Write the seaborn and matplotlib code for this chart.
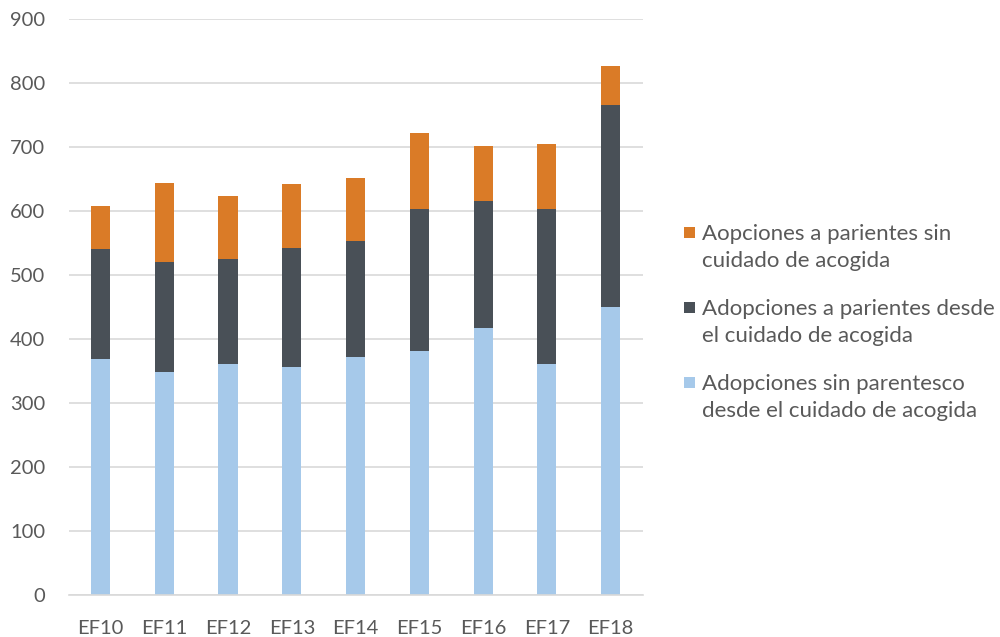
import matplotlib
matplotlib.use('Agg')
import seaborn as sns
import pandas as pd
import matplotlib.pyplot as plt
from matplotlib.patches import Rectangle

# data
years = ["EF10", "EF11", "EF12", "EF13", "EF14", "EF15", "EF16", "EF17", "EF18"]
unrelated = [369, 349, 361, 357, 372, 381, 417, 361, 450]
relatives_foster = [172, 171, 164, 186, 181, 222, 199, 242, 315]
relatives_no_foster = [67, 124, 99, 99, 99, 119, 86, 102, 61]

labels = ["Aopciones a parientes sin\ncuidado de acogida",
          "Adopciones a parientes desde\nel cuidado de acogida",
          "Adopciones sin parentesco\ndesde el cuidado de acogida"]
colors = ["#DA7B27", "#495057", "#A6C9EA"]

df = pd.DataFrame({"year": years, "unrelated": unrelated,
                   "rel_foster": relatives_foster, "rel_nofoster": relatives_no_foster})
df["mid"] = df["unrelated"] + df["rel_foster"]
df["top"] = df["mid"] + df["rel_nofoster"]

sns.set_theme(style="white")
plt.rcParams['font.family'] = ['Lato', 'DejaVu Sans']
text_color = "#595959"

fig = plt.figure(figsize=(10, 6.37), dpi=100)
ax = fig.add_axes([0.0686, 0.066, 0.574, 0.904])

# stacked bars drawn back to front
for col, c in zip(["top", "mid", "unrelated"], colors):
    sns.barplot(data=df, x="year", y=col, color=c, width=0.3, ax=ax,
                saturation=1, edgecolor="none", linewidth=0)

ax.set_ylim(0, 900)
ax.set_xlim(-0.5, 8.5)
ax.set_yticks(range(0, 901, 100))
ax.yaxis.grid(True, color="#D9D9D9", linewidth=1.2)
ax.set_axisbelow(True)
for s in ["top", "right", "left"]:
    ax.spines[s].set_visible(False)
ax.spines["bottom"].set_color("#D9D9D9")
ax.spines["bottom"].set_linewidth(1.2)
ax.set_xlabel("")
ax.set_ylabel("")
ax.tick_params(axis="both", length=0, labelsize=14.5, colors=text_color)
ax.tick_params(axis="x", pad=18)
ax.tick_params(axis="y", pad=17)

# legend drawn by hand so the square sits on the first line of each label
W, H = fig.get_size_inches() * fig.dpi
for i, (lab, c) in enumerate(zip(labels, colors)):
    y_line = 233 + i * 75
    fig.add_artist(Rectangle((684 / W, 1 - (y_line + 5) / H), 11 / W, 11 / H,
                             transform=fig.transFigure, facecolor=c, edgecolor="none"))
    fig.text(702 / W, 1 - (y_line - 9) / H, lab, fontsize=16, color=text_color,
             va="top", ha="left", linespacing=1.45)

fig.savefig("out.png", dpi=100)
